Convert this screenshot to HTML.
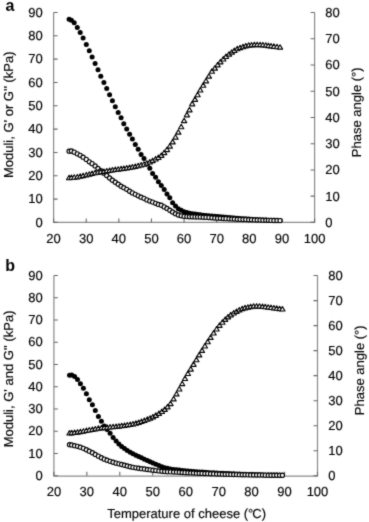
<!DOCTYPE html>
<html><head><meta charset="utf-8"><style>
html,body{margin:0;padding:0;background:#fff;}
svg{display:block;}
.t text, text.t{font-family:"Liberation Sans",sans-serif;font-size:13px;fill:#000;stroke:#000;stroke-width:0.15px;text-rendering:geometricPrecision;}
.pl{font-family:"Liberation Sans",sans-serif;font-size:16px;font-weight:bold;fill:#000;}
</style></head><body>
<svg width="369" height="522" viewBox="0 0 369 522">
<defs><filter id="bl" x="0" y="0" width="369" height="522" filterUnits="userSpaceOnUse" color-interpolation-filters="sRGB"><feConvolveMatrix order="3" kernelMatrix="0.3 1 0.3 1 6 1 0.3 1 0.3" divisor="11.2" edgeMode="duplicate" preserveAlpha="true"/></filter></defs>
<g filter="url(#bl)"><rect width="369" height="522" fill="#fff"/>
<path d="M53.6 12.5V222.4H314.6V12.5" fill="none" stroke="#8a8a8a" stroke-width="1.2"/><path d="M53.6 222.4h4M53.6 199.08h4M53.6 175.76h4M53.6 152.43h4M53.6 129.11h4M53.6 105.79h4M53.6 82.47h4M53.6 59.14h4M53.6 35.82h4M53.6 12.5h4M314.6 222.4h-4M314.6 196.16h-4M314.6 169.93h-4M314.6 143.69h-4M314.6 117.45h-4M314.6 91.21h-4M314.6 64.97h-4M314.6 38.74h-4M314.6 12.5h-4M53.6 222.4v-4M86.22 222.4v-4M118.85 222.4v-4M151.47 222.4v-4M184.1 222.4v-4M216.72 222.4v-4M249.35 222.4v-4M281.98 222.4v-4M314.6 222.4v-4" fill="none" stroke="#666" stroke-width="1.1"/><g class="t"><text x="42.8" y="226.6" text-anchor="end">0</text><text x="42.8" y="203.28" text-anchor="end">10</text><text x="42.8" y="179.96" text-anchor="end">20</text><text x="42.8" y="156.63" text-anchor="end">30</text><text x="42.8" y="133.31" text-anchor="end">40</text><text x="42.8" y="109.99" text-anchor="end">50</text><text x="42.8" y="86.67" text-anchor="end">60</text><text x="42.8" y="63.34" text-anchor="end">70</text><text x="42.8" y="40.02" text-anchor="end">80</text><text x="42.8" y="16.7" text-anchor="end">90</text><text x="325.3" y="226.8">0</text><text x="325.3" y="200.56">10</text><text x="325.3" y="174.33">20</text><text x="325.3" y="148.09">30</text><text x="325.3" y="121.85">40</text><text x="325.3" y="95.61">50</text><text x="325.3" y="69.38">60</text><text x="325.3" y="43.14">70</text><text x="325.3" y="16.9">80</text><text x="53.6" y="242.5" text-anchor="middle">20</text><text x="86.22" y="242.5" text-anchor="middle">30</text><text x="118.85" y="242.5" text-anchor="middle">40</text><text x="151.47" y="242.5" text-anchor="middle">50</text><text x="184.1" y="242.5" text-anchor="middle">60</text><text x="216.72" y="242.5" text-anchor="middle">70</text><text x="249.35" y="242.5" text-anchor="middle">80</text><text x="281.98" y="242.5" text-anchor="middle">90</text><text x="314.6" y="242.5" text-anchor="middle">100</text></g><path d="M53.9 275.55V476.05H317.5V275.55" fill="none" stroke="#8a8a8a" stroke-width="1.2"/><path d="M53.9 475.75h4M53.9 453.51h4M53.9 431.26h4M53.9 409.02h4M53.9 386.77h4M53.9 364.53h4M53.9 342.28h4M53.9 320.04h4M53.9 297.79h4M53.9 275.55h4M317.5 475.75h-4M317.5 450.73h-4M317.5 425.7h-4M317.5 400.68h-4M317.5 375.65h-4M317.5 350.62h-4M317.5 325.6h-4M317.5 300.58h-4M317.5 275.55h-4M53.9 475.75v-4M86.85 475.75v-4M119.8 475.75v-4M152.75 475.75v-4M185.7 475.75v-4M218.65 475.75v-4M251.6 475.75v-4M284.55 475.75v-4M317.5 475.75v-4" fill="none" stroke="#666" stroke-width="1.1"/><g class="t"><text x="42.8" y="479.95" text-anchor="end">0</text><text x="42.8" y="457.71" text-anchor="end">10</text><text x="42.8" y="435.46" text-anchor="end">20</text><text x="42.8" y="413.22" text-anchor="end">30</text><text x="42.8" y="390.97" text-anchor="end">40</text><text x="42.8" y="368.73" text-anchor="end">50</text><text x="42.8" y="346.48" text-anchor="end">60</text><text x="42.8" y="324.24" text-anchor="end">70</text><text x="42.8" y="301.99" text-anchor="end">80</text><text x="42.8" y="279.75" text-anchor="end">90</text><text x="328.3" y="480.15">0</text><text x="328.3" y="455.12">10</text><text x="328.3" y="430.1">20</text><text x="328.3" y="405.07">30</text><text x="328.3" y="380.05">40</text><text x="328.3" y="355.02">50</text><text x="328.3" y="330">60</text><text x="328.3" y="304.98">70</text><text x="328.3" y="279.95">80</text><text x="53.9" y="495.9" text-anchor="middle">20</text><text x="86.85" y="495.9" text-anchor="middle">30</text><text x="119.8" y="495.9" text-anchor="middle">40</text><text x="152.75" y="495.9" text-anchor="middle">50</text><text x="185.7" y="495.9" text-anchor="middle">60</text><text x="218.65" y="495.9" text-anchor="middle">70</text><text x="251.6" y="495.9" text-anchor="middle">80</text><text x="284.55" y="495.9" text-anchor="middle">90</text><text x="317.5" y="495.9" text-anchor="middle">100</text></g><g fill="#000"><circle cx="69.1" cy="19.33" r="2.5"/><circle cx="71.4" cy="20.2" r="2.5"/><circle cx="74.2" cy="22.77" r="2.5"/><circle cx="77.3" cy="27.47" r="2.5"/><circle cx="80.2" cy="32.54" r="2.5"/><circle cx="83.1" cy="38.01" r="2.5"/><circle cx="86.3" cy="44.4" r="2.5"/><circle cx="89.3" cy="50.68" r="2.5"/><circle cx="92.1" cy="56.9" r="2.5"/><circle cx="95.1" cy="63.52" r="2.5"/><circle cx="98" cy="69.82" r="2.5"/><circle cx="100.8" cy="76.2" r="2.5"/><circle cx="103.9" cy="82.4" r="2.5"/><circle cx="106.7" cy="88.4" r="2.5"/><circle cx="109.6" cy="94.7" r="2.5"/><circle cx="112.4" cy="100.7" r="2.5"/><circle cx="115.3" cy="106.7" r="2.5"/><circle cx="118.2" cy="112.58" r="2.5"/><circle cx="121.1" cy="117.8" r="2.5"/><circle cx="123.8" cy="123.8" r="2.5"/><circle cx="126.7" cy="128.9" r="2.5"/><circle cx="129.6" cy="134.26" r="2.5"/><circle cx="132.4" cy="139.1" r="2.5"/><circle cx="135.3" cy="144.4" r="2.5"/><circle cx="138.2" cy="149.23" r="2.5"/><circle cx="141.1" cy="154.4" r="2.5"/><circle cx="144" cy="158.58" r="2.5"/><circle cx="146.9" cy="163.9" r="2.5"/><circle cx="149.8" cy="168.3" r="2.5"/><circle cx="152.6" cy="173.4" r="2.5"/><circle cx="155.6" cy="177.2" r="2.5"/><circle cx="158.4" cy="181.84" r="2.5"/><circle cx="161.3" cy="185.43" r="2.5"/><circle cx="164.2" cy="189.6" r="2.5"/><circle cx="167" cy="194.04" r="2.5"/><circle cx="169.8" cy="197.8" r="2.5"/><circle cx="172.6" cy="202.8" r="2.5"/><circle cx="175.5" cy="206" r="2.5"/><circle cx="178.3" cy="208.7" r="2.5"/><circle cx="181.2" cy="210.36" r="2.5"/><circle cx="184.1" cy="211.66" r="2.5"/><circle cx="186.9" cy="212.58" r="2.5"/><circle cx="189.5" cy="213.2" r="2.5"/><circle cx="192.2" cy="213.69" r="2.5"/><circle cx="195" cy="214.11" r="2.5"/><circle cx="197.6" cy="214.48" r="2.5"/><circle cx="200.3" cy="214.82" r="2.5"/><circle cx="203.2" cy="215.15" r="2.5"/><circle cx="206" cy="215.45" r="2.5"/><circle cx="208.9" cy="215.75" r="2.5"/><circle cx="211.9" cy="216.05" r="2.5"/><circle cx="214.8" cy="216.32" r="2.5"/><circle cx="217.6" cy="216.58" r="2.5"/><circle cx="220.4" cy="216.84" r="2.5"/><circle cx="223.3" cy="217.09" r="2.5"/><circle cx="226" cy="217.32" r="2.5"/><circle cx="229" cy="217.57" r="2.5"/><circle cx="231.8" cy="217.79" r="2.5"/><circle cx="234.4" cy="218" r="2.5"/><circle cx="237.3" cy="218.22" r="2.5"/><circle cx="240.1" cy="218.43" r="2.5"/><circle cx="243" cy="218.65" r="2.5"/><circle cx="245.8" cy="218.86" r="2.5"/><circle cx="248.7" cy="219.08" r="2.5"/><circle cx="251.5" cy="219.29" r="2.5"/><circle cx="254.4" cy="219.48" r="2.5"/><circle cx="257.2" cy="219.66" r="2.5"/><circle cx="260.1" cy="219.8" r="2.5"/><circle cx="262.9" cy="219.93" r="2.5"/><circle cx="265.8" cy="220.06" r="2.5"/><circle cx="268.4" cy="220.16" r="2.5"/><circle cx="271" cy="220.26" r="2.5"/><circle cx="273.9" cy="220.35" r="2.5"/><circle cx="277" cy="220.44" r="2.5"/><circle cx="280" cy="220.5" r="2.5"/></g><g fill="#fff" stroke="#000" stroke-width="1.15"><circle cx="69.1" cy="151.17" r="2.1"/><circle cx="71.4" cy="151.04" r="2.1"/><circle cx="74.2" cy="152.15" r="2.1"/><circle cx="77.3" cy="153.85" r="2.1"/><circle cx="80.2" cy="155.3" r="2.1"/><circle cx="83.1" cy="157.2" r="2.1"/><circle cx="86.3" cy="159.4" r="2.1"/><circle cx="89.3" cy="161.84" r="2.1"/><circle cx="92.1" cy="163.63" r="2.1"/><circle cx="95.1" cy="165.94" r="2.1"/><circle cx="98" cy="168.45" r="2.1"/><circle cx="100.8" cy="170.73" r="2.1"/><circle cx="103.9" cy="173.19" r="2.1"/><circle cx="106.7" cy="175.54" r="2.1"/><circle cx="109.6" cy="178.03" r="2.1"/><circle cx="112.4" cy="180.25" r="2.1"/><circle cx="115.3" cy="182.24" r="2.1"/><circle cx="118.2" cy="184.27" r="2.1"/><circle cx="121.1" cy="186.28" r="2.1"/><circle cx="123.8" cy="187.7" r="2.1"/><circle cx="126.7" cy="189.34" r="2.1"/><circle cx="129.6" cy="191.26" r="2.1"/><circle cx="132.4" cy="192.9" r="2.1"/><circle cx="135.3" cy="194.36" r="2.1"/><circle cx="138.2" cy="195.8" r="2.1"/><circle cx="141.1" cy="197.2" r="2.1"/><circle cx="144" cy="198.35" r="2.1"/><circle cx="146.9" cy="199.89" r="2.1"/><circle cx="149.8" cy="201.06" r="2.1"/><circle cx="152.6" cy="202.12" r="2.1"/><circle cx="155.6" cy="203.3" r="2.1"/><circle cx="158.4" cy="204.43" r="2.1"/><circle cx="161.3" cy="205.28" r="2.1"/><circle cx="164.2" cy="206.89" r="2.1"/><circle cx="167" cy="208.43" r="2.1"/><circle cx="169.8" cy="210.23" r="2.1"/><circle cx="172.6" cy="212.04" r="2.1"/><circle cx="175.5" cy="213.7" r="2.1"/><circle cx="178.3" cy="214.98" r="2.1"/><circle cx="181.2" cy="215.82" r="2.1"/><circle cx="184.1" cy="216.37" r="2.1"/><circle cx="186.9" cy="216.6" r="2.1"/><circle cx="189.5" cy="216.72" r="2.1"/><circle cx="192.2" cy="216.81" r="2.1"/><circle cx="195" cy="216.88" r="2.1"/><circle cx="197.6" cy="216.95" r="2.1"/><circle cx="200.3" cy="217.06" r="2.1"/><circle cx="203.2" cy="217.21" r="2.1"/><circle cx="206" cy="217.37" r="2.1"/><circle cx="208.9" cy="217.57" r="2.1"/><circle cx="211.9" cy="217.77" r="2.1"/><circle cx="214.8" cy="217.97" r="2.1"/><circle cx="217.6" cy="218.16" r="2.1"/><circle cx="220.4" cy="218.32" r="2.1"/><circle cx="223.3" cy="218.49" r="2.1"/><circle cx="226" cy="218.64" r="2.1"/><circle cx="229" cy="218.8" r="2.1"/><circle cx="231.8" cy="218.95" r="2.1"/><circle cx="234.4" cy="219.09" r="2.1"/><circle cx="237.3" cy="219.23" r="2.1"/><circle cx="240.1" cy="219.36" r="2.1"/><circle cx="243" cy="219.49" r="2.1"/><circle cx="245.8" cy="219.6" r="2.1"/><circle cx="248.7" cy="219.71" r="2.1"/><circle cx="251.5" cy="219.82" r="2.1"/><circle cx="254.4" cy="219.92" r="2.1"/><circle cx="257.2" cy="220.01" r="2.1"/><circle cx="260.1" cy="220.1" r="2.1"/><circle cx="262.9" cy="220.18" r="2.1"/><circle cx="265.8" cy="220.27" r="2.1"/><circle cx="268.4" cy="220.34" r="2.1"/><circle cx="271" cy="220.4" r="2.1"/><circle cx="273.9" cy="220.47" r="2.1"/><circle cx="277" cy="220.54" r="2.1"/><circle cx="280" cy="220.6" r="2.1"/></g><g fill="#fff" stroke="#000" stroke-width="1.15" stroke-linejoin="round"><path d="M69.1 175.32L71.7 179.72L66.5 179.72Z"/><path d="M71.4 175.12L74 179.52L68.8 179.52Z"/><path d="M74.2 174.83L76.8 179.23L71.6 179.23Z"/><path d="M77.3 174.43L79.9 178.83L74.7 178.83Z"/><path d="M80.2 173.86L82.8 178.26L77.6 178.26Z"/><path d="M83.1 173.2L85.7 177.6L80.5 177.6Z"/><path d="M86.3 172.45L88.9 176.85L83.7 176.85Z"/><path d="M89.3 171.73L91.9 176.13L86.7 176.13Z"/><path d="M92.1 171.01L94.7 175.41L89.5 175.41Z"/><path d="M95.1 170.3L97.7 174.7L92.5 174.7Z"/><path d="M98 169.8L100.6 174.2L95.4 174.2Z"/><path d="M100.8 169.41L103.4 173.81L98.2 173.81Z"/><path d="M103.9 168.98L106.5 173.38L101.3 173.38Z"/><path d="M106.7 168.54L109.3 172.94L104.1 172.94Z"/><path d="M109.6 168.06L112.2 172.46L107 172.46Z"/><path d="M112.4 167.6L115 172L109.8 172Z"/><path d="M115.3 167.14L117.9 171.54L112.7 171.54Z"/><path d="M118.2 166.74L120.8 171.14L115.6 171.14Z"/><path d="M121.1 166.38L123.7 170.78L118.5 170.78Z"/><path d="M123.8 166.03L126.4 170.43L121.2 170.43Z"/><path d="M126.7 165.6L129.3 170L124.1 170Z"/><path d="M129.6 165.1L132.2 169.5L127 169.5Z"/><path d="M132.4 164.56L135 168.96L129.8 168.96Z"/><path d="M135.3 163.96L137.9 168.36L132.7 168.36Z"/><path d="M138.2 163.31L140.8 167.71L135.6 167.71Z"/><path d="M141.1 162.61L143.7 167.01L138.5 167.01Z"/><path d="M144 161.8L146.6 166.2L141.4 166.2Z"/><path d="M146.9 160.79L149.5 165.19L144.3 165.19Z"/><path d="M149.8 159.59L152.4 163.99L147.2 163.99Z"/><path d="M152.6 158.18L155.2 162.58L150 162.58Z"/><path d="M155.6 156.59L158.2 160.99L153 160.99Z"/><path d="M158.4 155.13L161 159.53L155.8 159.53Z"/><path d="M161.3 153.01L163.9 157.41L158.7 157.41Z"/><path d="M164.2 150.2L166.8 154.6L161.6 154.6Z"/><path d="M167 147.17L169.6 151.57L164.4 151.57Z"/><path d="M169.8 143.67L172.4 148.07L167.2 148.07Z"/><path d="M172.6 139.51L175.2 143.91L170 143.91Z"/><path d="M175.5 134.67L178.1 139.07L172.9 139.07Z"/><path d="M178.3 129.76L180.9 134.16L175.7 134.16Z"/><path d="M181.2 124.3L183.8 128.7L178.6 128.7Z"/><path d="M184.1 118.26L186.7 122.66L181.5 122.66Z"/><path d="M186.9 112.4L189.5 116.8L184.3 116.8Z"/><path d="M189.5 107.41L192.1 111.81L186.9 111.81Z"/><path d="M192.2 101.4L194.8 105.8L189.6 105.8Z"/><path d="M195 96.9L197.6 101.3L192.4 101.3Z"/><path d="M197.6 92.31L200.2 96.71L195 96.71Z"/><path d="M200.3 87.63L202.9 92.03L197.7 92.03Z"/><path d="M203.2 82.86L205.8 87.26L200.6 87.26Z"/><path d="M206 78.43L208.6 82.83L203.4 82.83Z"/><path d="M208.9 73.76L211.5 78.16L206.3 78.16Z"/><path d="M211.9 68.89L214.5 73.29L209.3 73.29Z"/><path d="M214.8 65.75L217.4 70.15L212.2 70.15Z"/><path d="M217.6 62.42L220.2 66.82L215 66.82Z"/><path d="M220.4 59.46L223 63.86L217.8 63.86Z"/><path d="M223.3 56.61L225.9 61.01L220.7 61.01Z"/><path d="M226 54.14L228.6 58.54L223.4 58.54Z"/><path d="M229 51.76L231.6 56.16L226.4 56.16Z"/><path d="M231.8 49.73L234.4 54.13L229.2 54.13Z"/><path d="M234.4 48.06L237 52.46L231.8 52.46Z"/><path d="M237.3 46.37L239.9 50.77L234.7 50.77Z"/><path d="M240.1 45.29L242.7 49.69L237.5 49.69Z"/><path d="M243 44.36L245.6 48.76L240.4 48.76Z"/><path d="M245.8 43.45L248.4 47.85L243.2 47.85Z"/><path d="M248.7 42.75L251.3 47.15L246.1 47.15Z"/><path d="M251.5 42.52L254.1 46.92L248.9 46.92Z"/><path d="M254.4 42.22L257 46.62L251.8 46.62Z"/><path d="M257.2 42.22L259.8 46.62L254.6 46.62Z"/><path d="M260.1 42.28L262.7 46.68L257.5 46.68Z"/><path d="M262.9 42.42L265.5 46.82L260.3 46.82Z"/><path d="M265.8 42.78L268.4 47.18L263.2 47.18Z"/><path d="M268.4 43.18L271 47.58L265.8 47.58Z"/><path d="M271 43.53L273.6 47.93L268.4 47.93Z"/><path d="M273.9 43.91L276.5 48.31L271.3 48.31Z"/><path d="M277 44.32L279.6 48.72L274.4 48.72Z"/><path d="M280 44.73L282.6 49.13L277.4 49.13Z"/></g><g fill="#000"><circle cx="69.5" cy="375.29" r="2.5"/><circle cx="71.7" cy="375.01" r="2.5"/><circle cx="74.6" cy="376.5" r="2.5"/><circle cx="77.5" cy="379.58" r="2.5"/><circle cx="80.4" cy="383.84" r="2.5"/><circle cx="83.4" cy="388.29" r="2.5"/><circle cx="86.4" cy="393.81" r="2.5"/><circle cx="89.3" cy="399.74" r="2.5"/><circle cx="92.4" cy="404.83" r="2.5"/><circle cx="95.3" cy="410.5" r="2.5"/><circle cx="98.4" cy="416.55" r="2.5"/><circle cx="101.4" cy="421.23" r="2.5"/><circle cx="104.3" cy="425.95" r="2.5"/><circle cx="107.1" cy="429.62" r="2.5"/><circle cx="110.1" cy="433.26" r="2.5"/><circle cx="113.1" cy="437.54" r="2.5"/><circle cx="116.1" cy="441.07" r="2.5"/><circle cx="118.9" cy="444.05" r="2.5"/><circle cx="121.65" cy="446.54" r="2.5"/><circle cx="124.5" cy="448.58" r="2.5"/><circle cx="127.3" cy="450.38" r="2.5"/><circle cx="130.2" cy="452.16" r="2.5"/><circle cx="133" cy="453.73" r="2.5"/><circle cx="135.9" cy="455.18" r="2.5"/><circle cx="138.7" cy="456.53" r="2.5"/><circle cx="141.5" cy="457.86" r="2.5"/><circle cx="144.4" cy="459.22" r="2.5"/><circle cx="147.4" cy="460.62" r="2.5"/><circle cx="150.1" cy="461.83" r="2.5"/><circle cx="152.9" cy="463.05" r="2.5"/><circle cx="155.8" cy="464.27" r="2.5"/><circle cx="158.9" cy="465.61" r="2.5"/><circle cx="161.9" cy="466.77" r="2.5"/><circle cx="164.7" cy="467.65" r="2.5"/><circle cx="167.5" cy="468.37" r="2.5"/><circle cx="170.5" cy="469.01" r="2.5"/><circle cx="173.6" cy="469.51" r="2.5"/><circle cx="176.5" cy="469.82" r="2.5"/><circle cx="179.3" cy="470.11" r="2.5"/><circle cx="182.2" cy="470.42" r="2.5"/><circle cx="185" cy="470.71" r="2.5"/><circle cx="187.9" cy="470.97" r="2.5"/><circle cx="190.7" cy="471.22" r="2.5"/><circle cx="193.5" cy="471.45" r="2.5"/><circle cx="196.4" cy="471.68" r="2.5"/><circle cx="199.2" cy="471.89" r="2.5"/><circle cx="202" cy="472.09" r="2.5"/><circle cx="204.9" cy="472.29" r="2.5"/><circle cx="207.7" cy="472.48" r="2.5"/><circle cx="210.6" cy="472.66" r="2.5"/><circle cx="213.6" cy="472.84" r="2.5"/><circle cx="216.6" cy="473.01" r="2.5"/><circle cx="219.5" cy="473.17" r="2.5"/><circle cx="222.4" cy="473.32" r="2.5"/><circle cx="225.2" cy="473.46" r="2.5"/><circle cx="228" cy="473.6" r="2.5"/><circle cx="230.8" cy="473.73" r="2.5"/><circle cx="233.7" cy="473.87" r="2.5"/><circle cx="236.5" cy="473.99" r="2.5"/><circle cx="239.3" cy="474.12" r="2.5"/><circle cx="242.2" cy="474.23" r="2.5"/><circle cx="245" cy="474.34" r="2.5"/><circle cx="247.9" cy="474.44" r="2.5"/><circle cx="250.7" cy="474.52" r="2.5"/><circle cx="253.6" cy="474.6" r="2.5"/><circle cx="256.6" cy="474.68" r="2.5"/><circle cx="259.5" cy="474.76" r="2.5"/><circle cx="262.5" cy="474.83" r="2.5"/><circle cx="265.3" cy="474.9" r="2.5"/><circle cx="268.2" cy="474.97" r="2.5"/><circle cx="271" cy="475.02" r="2.5"/><circle cx="273.9" cy="475.08" r="2.5"/><circle cx="276.7" cy="475.12" r="2.5"/><circle cx="279.6" cy="475.16" r="2.5"/><circle cx="282.4" cy="475.19" r="2.5"/></g><g fill="#fff" stroke="#000" stroke-width="1.15"><circle cx="69.5" cy="444.68" r="2.1"/><circle cx="71.7" cy="444.93" r="2.1"/><circle cx="74.6" cy="445.65" r="2.1"/><circle cx="77.5" cy="446.32" r="2.1"/><circle cx="80.4" cy="447.16" r="2.1"/><circle cx="83.4" cy="448.36" r="2.1"/><circle cx="86.4" cy="449.77" r="2.1"/><circle cx="89.3" cy="451.15" r="2.1"/><circle cx="92.4" cy="452.79" r="2.1"/><circle cx="95.3" cy="454.4" r="2.1"/><circle cx="98.4" cy="456.13" r="2.1"/><circle cx="101.4" cy="457.76" r="2.1"/><circle cx="104.3" cy="459.14" r="2.1"/><circle cx="107.1" cy="460.24" r="2.1"/><circle cx="110.1" cy="461.31" r="2.1"/><circle cx="113.1" cy="462.28" r="2.1"/><circle cx="116.1" cy="463.14" r="2.1"/><circle cx="118.9" cy="463.86" r="2.1"/><circle cx="121.65" cy="464.54" r="2.1"/><circle cx="124.5" cy="465.25" r="2.1"/><circle cx="127.3" cy="465.95" r="2.1"/><circle cx="130.2" cy="466.74" r="2.1"/><circle cx="133" cy="467.35" r="2.1"/><circle cx="135.9" cy="467.82" r="2.1"/><circle cx="138.7" cy="468.24" r="2.1"/><circle cx="141.5" cy="468.65" r="2.1"/><circle cx="144.4" cy="469.05" r="2.1"/><circle cx="147.4" cy="469.48" r="2.1"/><circle cx="150.1" cy="469.85" r="2.1"/><circle cx="152.9" cy="470.21" r="2.1"/><circle cx="155.8" cy="470.57" r="2.1"/><circle cx="158.9" cy="470.92" r="2.1"/><circle cx="161.9" cy="471.25" r="2.1"/><circle cx="164.7" cy="471.51" r="2.1"/><circle cx="167.5" cy="471.72" r="2.1"/><circle cx="170.5" cy="471.87" r="2.1"/><circle cx="173.6" cy="471.99" r="2.1"/><circle cx="176.5" cy="472.11" r="2.1"/><circle cx="179.3" cy="472.26" r="2.1"/><circle cx="182.2" cy="472.45" r="2.1"/><circle cx="185" cy="472.64" r="2.1"/><circle cx="187.9" cy="472.8" r="2.1"/><circle cx="190.7" cy="472.93" r="2.1"/><circle cx="193.5" cy="473.05" r="2.1"/><circle cx="196.4" cy="473.17" r="2.1"/><circle cx="199.2" cy="473.27" r="2.1"/><circle cx="202" cy="473.38" r="2.1"/><circle cx="204.9" cy="473.5" r="2.1"/><circle cx="207.7" cy="473.61" r="2.1"/><circle cx="210.6" cy="473.73" r="2.1"/><circle cx="213.6" cy="473.85" r="2.1"/><circle cx="216.6" cy="473.97" r="2.1"/><circle cx="219.5" cy="474.08" r="2.1"/><circle cx="222.4" cy="474.18" r="2.1"/><circle cx="225.2" cy="474.28" r="2.1"/><circle cx="228" cy="474.36" r="2.1"/><circle cx="230.8" cy="474.44" r="2.1"/><circle cx="233.7" cy="474.53" r="2.1"/><circle cx="236.5" cy="474.6" r="2.1"/><circle cx="239.3" cy="474.67" r="2.1"/><circle cx="242.2" cy="474.74" r="2.1"/><circle cx="245" cy="474.81" r="2.1"/><circle cx="247.9" cy="474.86" r="2.1"/><circle cx="250.7" cy="474.91" r="2.1"/><circle cx="253.6" cy="474.96" r="2.1"/><circle cx="256.6" cy="475.01" r="2.1"/><circle cx="259.5" cy="475.05" r="2.1"/><circle cx="262.5" cy="475.09" r="2.1"/><circle cx="265.3" cy="475.13" r="2.1"/><circle cx="268.2" cy="475.17" r="2.1"/><circle cx="271" cy="475.2" r="2.1"/><circle cx="273.9" cy="475.23" r="2.1"/><circle cx="276.7" cy="475.26" r="2.1"/><circle cx="279.6" cy="475.28" r="2.1"/><circle cx="282.4" cy="475.3" r="2.1"/></g><g fill="#fff" stroke="#000" stroke-width="1.15" stroke-linejoin="round"><path d="M69.5 430.63L72.1 435.03L66.9 435.03Z"/><path d="M71.7 430.41L74.3 434.81L69.1 434.81Z"/><path d="M74.6 430.08L77.2 434.48L72 434.48Z"/><path d="M77.5 429.69L80.1 434.09L74.9 434.09Z"/><path d="M80.4 429.22L83 433.62L77.8 433.62Z"/><path d="M83.4 428.67L86 433.07L80.8 433.07Z"/><path d="M86.4 428.07L89 432.47L83.8 432.47Z"/><path d="M89.3 427.55L91.9 431.95L86.7 431.95Z"/><path d="M92.4 427.05L95 431.45L89.8 431.45Z"/><path d="M95.3 426.5L97.9 430.9L92.7 430.9Z"/><path d="M98.4 425.88L101 430.28L95.8 430.28Z"/><path d="M101.4 425.47L104 429.87L98.8 429.87Z"/><path d="M104.3 425.16L106.9 429.56L101.7 429.56Z"/><path d="M107.1 424.89L109.7 429.29L104.5 429.29Z"/><path d="M110.1 424.63L112.7 429.03L107.5 429.03Z"/><path d="M113.1 424.35L115.7 428.75L110.5 428.75Z"/><path d="M116.1 424.03L118.7 428.43L113.5 428.43Z"/><path d="M118.9 423.69L121.5 428.09L116.3 428.09Z"/><path d="M121.65 423.33L124.25 427.73L119.05 427.73Z"/><path d="M124.5 422.95L127.1 427.35L121.9 427.35Z"/><path d="M127.3 422.53L129.9 426.93L124.7 426.93Z"/><path d="M130.2 422.05L132.8 426.45L127.6 426.45Z"/><path d="M133 421.52L135.6 425.92L130.4 425.92Z"/><path d="M135.9 420.89L138.5 425.29L133.3 425.29Z"/><path d="M138.7 420.06L141.3 424.46L136.1 424.46Z"/><path d="M141.5 419.08L144.1 423.48L138.9 423.48Z"/><path d="M144.4 418.02L147 422.42L141.8 422.42Z"/><path d="M147.4 416.87L150 421.27L144.8 421.27Z"/><path d="M150.1 415.74L152.7 420.14L147.5 420.14Z"/><path d="M152.9 414.45L155.5 418.85L150.3 418.85Z"/><path d="M155.8 412.9L158.4 417.3L153.2 417.3Z"/><path d="M158.9 411.02L161.5 415.42L156.3 415.42Z"/><path d="M161.9 409.05L164.5 413.45L159.3 413.45Z"/><path d="M164.7 406.95L167.3 411.35L162.1 411.35Z"/><path d="M167.5 404.47L170.1 408.87L164.9 408.87Z"/><path d="M170.5 401.22L173.1 405.62L167.9 405.62Z"/><path d="M173.6 396.54L176.2 400.94L171 400.94Z"/><path d="M176.5 391.52L179.1 395.92L173.9 395.92Z"/><path d="M179.3 386.55L181.9 390.95L176.7 390.95Z"/><path d="M182.2 381.29L184.8 385.69L179.6 385.69Z"/><path d="M185 376.11L187.6 380.51L182.4 380.51Z"/><path d="M187.9 371.05L190.5 375.45L185.3 375.45Z"/><path d="M190.7 366.65L193.3 371.05L188.1 371.05Z"/><path d="M193.5 361.9L196.1 366.3L190.9 366.3Z"/><path d="M196.4 357.36L199 361.76L193.8 361.76Z"/><path d="M199.2 352.49L201.8 356.89L196.6 356.89Z"/><path d="M202 348.04L204.6 352.44L199.4 352.44Z"/><path d="M204.9 343.57L207.5 347.97L202.3 347.97Z"/><path d="M207.7 339.35L210.3 343.75L205.1 343.75Z"/><path d="M210.6 335.04L213.2 339.44L208 339.44Z"/><path d="M213.6 330.63L216.2 335.03L211 335.03Z"/><path d="M216.6 326.57L219.2 330.97L214 330.97Z"/><path d="M219.5 322.93L222.1 327.33L216.9 327.33Z"/><path d="M222.4 319.81L225 324.21L219.8 324.21Z"/><path d="M225.2 316.96L227.8 321.36L222.6 321.36Z"/><path d="M228 314.48L230.6 318.88L225.4 318.88Z"/><path d="M230.8 312.4L233.4 316.8L228.2 316.8Z"/><path d="M233.7 310.56L236.3 314.96L231.1 314.96Z"/><path d="M236.5 309.01L239.1 313.41L233.9 313.41Z"/><path d="M239.3 307.53L241.9 311.93L236.7 311.93Z"/><path d="M242.2 306.28L244.8 310.68L239.6 310.68Z"/><path d="M245 305.41L247.6 309.81L242.4 309.81Z"/><path d="M247.9 304.73L250.5 309.13L245.3 309.13Z"/><path d="M250.7 304.18L253.3 308.58L248.1 308.58Z"/><path d="M253.6 303.74L256.2 308.14L251 308.14Z"/><path d="M256.6 303.7L259.2 308.1L254 308.1Z"/><path d="M259.5 303.74L262.1 308.14L256.9 308.14Z"/><path d="M262.5 304.02L265.1 308.42L259.9 308.42Z"/><path d="M265.3 304.34L267.9 308.74L262.7 308.74Z"/><path d="M268.2 304.75L270.8 309.15L265.6 309.15Z"/><path d="M271 305.13L273.6 309.53L268.4 309.53Z"/><path d="M273.9 305.51L276.5 309.91L271.3 309.91Z"/><path d="M276.7 305.87L279.3 310.27L274.1 310.27Z"/><path d="M279.6 306.25L282.2 310.65L277 310.65Z"/><path d="M282.4 306.6L285 311L279.8 311Z"/></g><text class="pl" x="5.6" y="11.1">a</text><text class="pl" x="5.2" y="271">b</text><text class="t" transform="translate(13.1 114.75) rotate(-90)" text-anchor="middle">Moduli, G' or G'' (kPa)</text><text class="t" transform="translate(13.1 378.9) rotate(-90)" text-anchor="middle">Moduli, G' and G'' (kPa)</text><text class="t" transform="translate(361.3 112.3) rotate(-90)" text-anchor="middle">Phase angle (°)</text><text class="t" transform="translate(363.5 370.3) rotate(-90)" text-anchor="middle">Phase angle (°)</text><text class="t" x="186.6" y="518" text-anchor="middle">Temperature of cheese (°<tspan dx="-1">C</tspan>)</text>
</g></svg>
</body></html>
